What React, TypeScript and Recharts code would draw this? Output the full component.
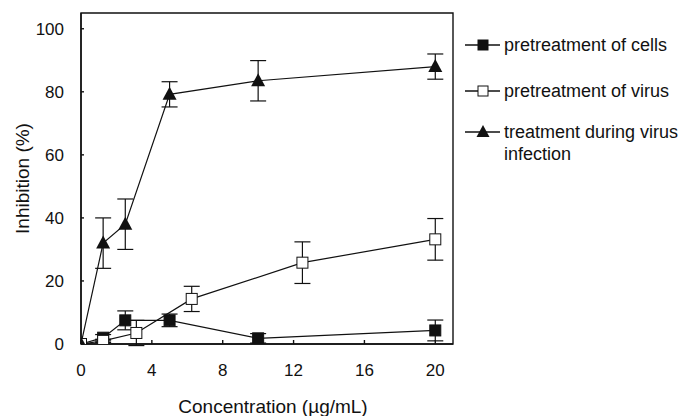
import React from "react";
import {
  LineChart,
  Line,
  XAxis,
  YAxis,
  ErrorBar,
  ReferenceArea,
} from "recharts";

// concentrations (µg/mL) and inhibition (%)
const cellsX = [0, 1.25, 2.5, 5, 10, 20];
const cellsY = [0, 2, 7.5, 7.5, 1.8, 4.3];
const cellsErr = [0, 1, 3, 2, 1.5, 3.3];

const virusX = [0, 1.25, 3.125, 6.25, 12.5, 20];
const virusY = [0, 1, 3.5, 14.3, 25.8, 33.2];
const virusErr = [0, 0.5, 4, 4, 6.6, 6.6];

const infectionX = [0, 1.25, 2.5, 5, 10, 20];
const infectionY = [0, 32, 38, 79.2, 83.5, 88];
const infectionErr = [0, 8, 8, 4, 6.4, 4];

const xTicks = [0, 4, 8, 12, 16, 20];
const yTicks = [0, 20, 40, 60, 80, 100];

const FONT = '"Liberation Sans", Arial, sans-serif';
const INK = "#111";

const toRows = (xs: number[], ys: number[], errs: number[]) =>
  xs.map((x, i) => ({ x, y: ys[i], err: errs[i] }));

const cellsData = toRows(cellsX, cellsY, cellsErr);
const virusData = toRows(virusX, virusY, virusErr);
const infectionData = toRows(infectionX, infectionY, infectionErr);

function squareDot(filled: boolean) {
  return (props: any) => {
    const { cx, cy, index } = props;
    if (cx == null || cy == null) return <g key={index} />;
    return (
      <rect
        key={index}
        x={cx - 5.5}
        y={cy - 5.5}
        width={11}
        height={11}
        fill={filled ? INK : "#fff"}
        stroke={INK}
        strokeWidth={1}
      />
    );
  };
}

function triangleDot(props: any) {
  const { cx, cy, index } = props;
  if (cx == null || cy == null) return <g key={index} />;
  return (
    <polygon
      key={index}
      points={`${cx},${cy - 7.5} ${cx - 7},${cy + 5.5} ${cx + 7},${cy + 5.5}`}
      fill={INK}
    />
  );
}

function LegendMarker({ kind }: { kind: "filled" | "open" | "tri" }) {
  return (
    <svg width={40} height={22} style={{ flex: "none" }}>
      <line x1={2} y1={11} x2={37} y2={11} stroke={INK} strokeWidth={1.5} />
      {kind === "tri" ? (
        <polygon points="20,4 13.5,16 26.5,16" fill={INK} />
      ) : (
        <rect
          x={15}
          y={6}
          width={10}
          height={10}
          fill={kind === "filled" ? INK : "#fff"}
          stroke={INK}
          strokeWidth={1}
        />
      )}
    </svg>
  );
}

const legendRows: { kind: "filled" | "open" | "tri"; lines: string[]; top: number }[] = [
  { kind: "filled", lines: ["pretreatment of cells"], top: 34 },
  { kind: "open", lines: ["pretreatment of virus"], top: 80 },
  { kind: "tri", lines: ["treatment during virus", "infection"], top: 121 },
];

export default function App() {
  return (
    <div
      style={{
        position: "absolute",
        left: 0,
        top: 0,
        width: 678,
        height: 416,
        background: "#fff",
        fontFamily: FONT,
        color: INK,
      }}
    >
      <LineChart
        width={678}
        height={416}
        margin={{ top: 13, right: 225, bottom: 0, left: 0 }}
      >
        <ReferenceArea
          x1={0}
          x2={21}
          y1={0}
          y2={105}
          fill="none"
          stroke={INK}
          strokeWidth={1.4}
        />
        <XAxis
          type="number"
          dataKey="x"
          domain={[0, 21]}
          ticks={xTicks}
          allowDataOverflow
          height={72}
          stroke={INK}
          strokeWidth={1.4}
          tickSize={-4}
          tickMargin={24}
          tick={{ fill: INK, fontSize: 17 }}
          label={{
            value: "Concentration (\u00b5g/mL)",
            position: "insideBottom",
            offset: 3,
            dx: 6,
            style: { fill: INK, fontSize: 19 },
          }}
        />
        <YAxis
          type="number"
          domain={[0, 105]}
          ticks={yTicks}
          allowDataOverflow
          width={81}
          stroke={INK}
          strokeWidth={1.4}
          tickSize={-3}
          tickMargin={20}
          tick={{ fill: INK, fontSize: 17 }}
          label={{
            value: "Inhibition (%)",
            angle: -90,
            position: "insideLeft",
            offset: 22,
            style: { fill: INK, fontSize: 19, textAnchor: "middle" },
          }}
        />
        <Line
          data={cellsData}
          dataKey="y"
          name="pretreatment of cells"
          stroke={INK}
          strokeWidth={1.2}
          dot={squareDot(true)}
          activeDot={false}
          isAnimationActive={false}
        >
          <ErrorBar dataKey="err" width={8} stroke={INK} strokeWidth={1.2} direction="y" />
        </Line>
        <Line
          data={virusData}
          dataKey="y"
          name="pretreatment of virus"
          stroke={INK}
          strokeWidth={1.2}
          dot={squareDot(false)}
          activeDot={false}
          isAnimationActive={false}
        >
          <ErrorBar dataKey="err" width={8} stroke={INK} strokeWidth={1.2} direction="y" />
        </Line>
        <Line
          data={infectionData}
          dataKey="y"
          name="treatment during virus infection"
          stroke={INK}
          strokeWidth={1.2}
          dot={triangleDot}
          activeDot={false}
          isAnimationActive={false}
        >
          <ErrorBar dataKey="err" width={8} stroke={INK} strokeWidth={1.2} direction="y" />
        </Line>
      </LineChart>

      {legendRows.map((row) => (
        <div
          key={row.kind}
          style={{
            position: "absolute",
            left: 463,
            top: row.top,
            display: "flex",
            alignItems: "flex-start",
            fontSize: 18,
            lineHeight: "22px",
            whiteSpace: "nowrap",
          }}
        >
          <LegendMarker kind={row.kind} />
          <div style={{ marginLeft: 1 }}>
            {row.lines.map((t) => (
              <div key={t}>{t}</div>
            ))}
          </div>
        </div>
      ))}
    </div>
  );
}
